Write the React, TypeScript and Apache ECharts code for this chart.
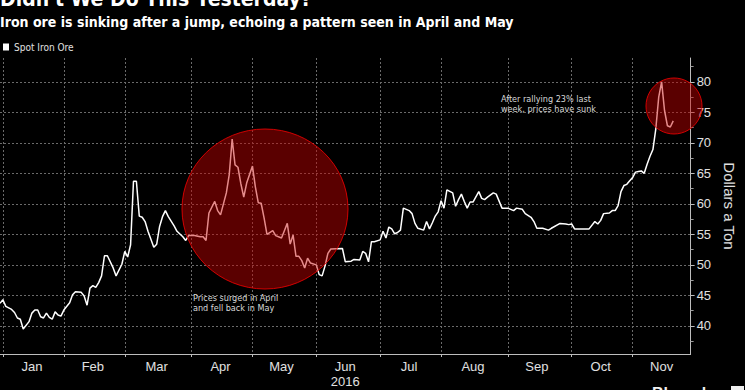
import React, { useEffect, useRef } from 'react';
import * as echarts from 'echarts';

// ---- Data ----
const titleText = "Didn't We Do This Yesterday?";
const subtitleText = 'Iron ore is sinking after a jump, echoing a pattern seen in April and May';
const seriesName = 'Spot Iron Ore';
const yAxisName = 'Dollars a Ton';
const yearLabel = '2016';

const monthLabels = ['Jan', 'Feb', 'Mar', 'Apr', 'May', 'Jun', 'Jul', 'Aug', 'Sep', 'Oct', 'Nov'];
// trading days per month shown on the axis (Nov runs to the 29th)
const monthTradingDays = [21, 21, 23, 21, 22, 22, 21, 23, 22, 21, 21];
const leadingDays = ['Dec 31'];

const yTickValues = [40, 45, 50, 55, 60, 65, 70, 75, 80];
const yMin = 35.4;
const yMax = 83.9;

// trading-day index (0 = Dec 31, 2015) and spot price, $/ton
const dayIndex = [
  0, 1, 2, 4, 5, 6, 7, 8, 10, 11, 12, 13, 14, 15, 16, 17, 18, 19, 20, 21,
  22, 24, 25, 26, 28, 29, 30, 31, 32, 33, 34, 35, 36, 37, 39, 40, 42, 43, 44, 45,
  46, 47, 48, 49, 50, 51, 53, 54, 55, 56, 57, 58, 60, 61, 63, 64, 65, 67, 69, 70,
  71, 72, 74, 75, 76, 78, 79, 80, 81, 82, 83, 84, 85, 87, 88, 89, 90, 91, 92, 94,
  95, 97, 98, 99, 100, 101, 102, 103, 104, 105, 106, 107, 109, 110, 111, 112, 113, 114, 118, 119,
  121, 122, 124, 125, 126, 127, 128, 129, 131, 132, 133, 134, 135, 136, 137, 138, 139, 141, 142, 143,
  144, 146, 147, 148, 149, 150, 151, 152, 153, 154, 156, 157, 158, 159, 160, 161, 162, 163, 165, 166,
  167, 168, 170, 171, 173, 175, 177, 178, 180, 181, 183, 184, 185, 187, 189, 190, 193, 195, 196, 197,
  198, 203, 205, 206, 207, 208, 210, 211, 212, 213, 214, 215, 216, 217, 218, 219, 220, 221, 222, 223,
  224, 225, 226, 227, 228, 229, 230, 231, 232,
];
const price = [
  43.7, 44.3, 43.2, 42.7, 42.2, 41.3, 41.1, 39.5, 40.7, 42.1, 42.6, 42.6, 41.5, 41.3, 42.1, 41.4, 41.1, 42.3, 41.8, 41.6,
  42.6, 43.8, 45.1, 45.6, 45.5, 44.9, 43.4, 46.2, 46.6, 46.3, 47.1, 48.2, 51.5, 51.5, 49.5, 48.2, 50.1, 52.2, 51.3, 53.3,
  63.7, 63.7, 58.0, 57.8, 57.1, 55.5, 52.9, 53.4, 56.3, 57.9, 58.9, 57.9, 56.4, 55.5, 54.6, 54.0, 54.8, 54.8, 54.6, 54.6,
  54.0, 58.5, 60.4, 58.9, 58.2, 61.8, 64.8, 70.6, 66.4, 66.0, 63.3, 61.1, 63.4, 66.2, 62.8, 60.2, 60.1, 57.7, 55.0, 55.6,
  54.8, 54.4, 55.6, 56.8, 53.4, 54.9, 51.4, 51.4, 50.7, 49.5, 51.1, 50.3, 50.0, 48.4, 48.2, 49.8, 51.9, 52.6, 52.7, 50.5,
  50.6, 50.9, 50.8, 52.2, 51.9, 50.5, 53.8, 53.8, 54.1, 55.5, 54.4, 56.2, 55.9, 55.1, 55.3, 55.7, 59.3, 58.9, 58.4, 56.8,
  56.0, 55.7, 57.1, 55.9, 56.9, 58.0, 58.7, 60.5, 59.3, 62.3, 61.8, 59.6, 60.7, 61.6, 60.4, 59.3, 60.3, 60.3, 62.0, 60.9,
  60.7, 61.1, 61.8, 61.6, 59.3, 59.3, 58.9, 59.3, 59.1, 58.4, 57.8, 57.1, 56.0, 56.0, 55.7, 56.0, 56.8, 56.7, 56.6, 56.7,
  55.9, 55.9, 57.1, 56.7, 57.3, 58.4, 58.5, 58.9, 58.9, 59.7, 62.0, 63.0, 63.2, 63.8, 64.3, 65.2, 65.3, 65.4, 65.0, 66.5,
  67.8, 68.9, 72.3, 77.5, 80.0, 75.3, 72.8, 72.6, 73.6,
];

const noteApril = 'Prices surged in April\nand fell back in May';
const noteNov = 'After rallying 23% last\nweek, prices have sunk';

// ---- derived axis helpers ----
const categories: string[] = [...leadingDays];
const monthStart = new Set<number>();
const monthMidLabel = new Map<number, string>();
{
  let idx = leadingDays.length;
  monthLabels.forEach((m, i) => {
    const n = monthTradingDays[i];
    monthStart.add(idx);
    const mid = idx + Math.floor((n - 1) / 2);
    monthMidLabel.set(mid, m === 'Jun' ? `${m}\n${yearLabel}` : m);
    for (let k = 0; k < n; k++) categories.push(`${m} ${k + 1}`);
    idx += n;
  });
}

const NARROW = "'Liberation Sans Narrow', 'DejaVu Sans Condensed', sans-serif";
const REGULAR = "'Liberation Sans', Arial, sans-serif";
const GRID_COLOR = '#6a6a6a';

export default function App() {
  const ref = useRef<HTMLDivElement>(null);

  useEffect(() => {
    document.body.style.margin = '0';
    document.body.style.background = '#000';
    if (!ref.current) return;
    const chart = echarts.init(ref.current, undefined, { renderer: 'svg' });
    const data = dayIndex.map((d, i) => [d, price[i]]);

    chart.setOption({
      animation: false,
      backgroundColor: '#000',
      grid: { left: 0, right: 42, top: 58, bottom: 36, containLabel: false },
      legend: {
        data: [seriesName],
        left: 3,
        top: 42,
        padding: 0,
        icon: 'rect',
        itemWidth: 6,
        itemHeight: 7,
        textStyle: { color: '#e0e0e0', fontSize: 10, fontFamily: NARROW },
      },
      xAxis: {
        type: 'category',
        data: categories,
        boundaryGap: false,
        axisLine: { show: true, lineStyle: { color: '#bdbdbd', width: 1 } },
        axisTick: {
          show: true,
          length: 3,
          interval: (i: number) => monthStart.has(i),
          lineStyle: { color: '#bdbdbd' },
        },
        axisLabel: {
          interval: (i: number) => monthMidLabel.has(i),
          formatter: (_v: string, i: number) => monthMidLabel.get(i) || '',
          color: '#e0e0e0',
          fontSize: 13,
          fontFamily: REGULAR,
          margin: 5,
          lineHeight: 15,
        },
        splitLine: {
          show: true,
          interval: (i: number) => monthStart.has(i),
          lineStyle: { color: GRID_COLOR, type: [2, 2], width: 1 },
        },
      },
      yAxis: {
        type: 'value',
        position: 'right',
        min: yMin,
        max: yMax,
        splitNumber: 10,
        name: yAxisName,
        nameLocation: 'middle',
        nameRotate: -90,
        nameGap: 25,
        nameTextStyle: { color: '#e0e0e0', fontSize: 15, fontFamily: REGULAR },
        axisLine: { show: true, lineStyle: { color: '#bdbdbd', width: 1 } },
        axisTick: {
          show: true,
          length: 4,
          customValues: yTickValues,
          lineStyle: { color: '#bdbdbd' },
        },
        minorTick: { show: true, splitNumber: 2, length: 3, lineStyle: { color: '#9a9a9a' } },
        axisLabel: {
          customValues: yTickValues,
          color: '#e0e0e0',
          fontSize: 13,
          fontFamily: REGULAR,
          margin: 6,
        },
        splitLine: { show: true, lineStyle: { color: GRID_COLOR, type: [2, 2], width: 1 } },
      },
      series: [
        {
          name: seriesName,
          type: 'line',
          data,
          symbol: 'none',
          color: '#ffffff',
          lineStyle: { color: '#ffffff', width: 1.5 },
          z: 2,
        },
      ],
      graphic: [
        {
          type: 'text',
          left: 0,
          top: -12,
          style: { text: titleText, fill: '#fff', font: `bold 21px ${NARROW}` },
        },
        {
          type: 'text',
          x: 0,
          y: 22,
          style: {
            text: subtitleText,
            fill: '#fff',
            font: `bold 14px ${NARROW}`,
            verticalAlign: 'middle',
          },
        },
        {
          type: 'ellipse',
          shape: { cx: 265, cy: 209, rx: 83, ry: 80 },
          style: { fill: 'rgba(200,0,0,0.45)', stroke: 'rgba(225,0,0,0.9)', lineWidth: 1 },
          z: 100,
        },
        {
          type: 'circle',
          shape: { cx: 674, cy: 106, r: 28 },
          style: { fill: 'rgba(200,0,0,0.45)', stroke: 'rgba(225,0,0,0.9)', lineWidth: 1 },
          z: 100,
        },
        {
          type: 'text',
          x: 193,
          y: 293,
          style: { text: noteApril, fill: '#d8d8d8', font: `9px ${NARROW}`, lineHeight: 10 },
          z: 110,
        },
        {
          type: 'text',
          x: 501,
          y: 94,
          style: { text: noteNov, fill: '#d8d8d8', font: `9px ${NARROW}`, lineHeight: 10 },
          z: 110,
        },
        {
          type: 'text',
          x: 652,
          y: 385,
          style: { text: 'Bloomberg', fill: '#f0f0f0', font: `bold 16px ${REGULAR}` },
          z: 110,
        },
        {
          type: 'rect',
          shape: { x: 731, y: 386, width: 13, height: 13 },
          style: { fill: '#f0f0f0' },
          z: 110,
        },
      ],
    });

    return () => chart.dispose();
  }, []);

  return (
    <div
      ref={ref}
      style={{ position: 'absolute', left: 0, top: 0, width: 745, height: 390, background: '#000' }}
    />
  );
}
